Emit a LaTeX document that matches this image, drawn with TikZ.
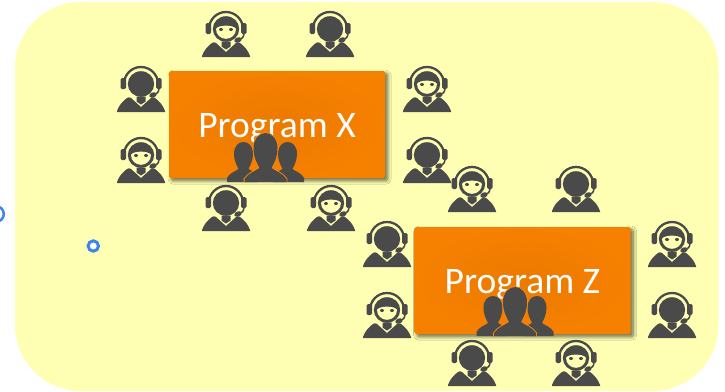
\documentclass[tikz,border=0pt]{standalone}
\usepackage{fontspec}
\setmainfont{Carlito}
\usetikzlibrary{shadows.blur}
\definecolor{bgY}{HTML}{FFFFB3}
\definecolor{iconC}{HTML}{4A4A4A}
\definecolor{boxIn}{HTML}{EC7A00}
\definecolor{boxOut}{HTML}{F68000}
\definecolor{haloO}{HTML}{F48A10}
\definecolor{ringB}{HTML}{3D85EE}
\tikzset{
 x=1pt,y=-1pt,
 programbox/.style={inner color=boxIn,outer color=boxOut,rounded corners=1.5pt,minimum width=216pt,minimum height=107pt,inner sep=0pt,
   anchor=north west,blur shadow={shadow xshift=2.5pt,shadow yshift=-2.5pt,shadow blur steps=10,shadow blur radius=3.5pt,shadow opacity=60}},
 programtext/.style={text=white,font=\fontsize{37.5}{37.5}\selectfont,inner sep=0pt,anchor=base},
 ring/.style={draw=ringB,fill=white},
 iconfill/.style={fill=iconC,draw=none},
 agentbase/.pic={
   \path[iconfill] (-24,0) -- (-24,-1) .. controls (-22,-7) and (-18,-11) .. (-14,-14) .. controls (-13,-15) and (-11,-15) .. (-10,-14) -- (0,-5) -- (10,-14) .. controls (11,-15) and (13,-15) .. (14,-14) .. controls (18,-11) and (22,-7) .. (24,-1) -- (24,0) -- cycle;
   \path[iconfill] (-4.5,-15.5) -- (4.5,-15.5) -- (4.5,-10.5) -- (0,-7.5) -- (-4.5,-10.5) -- cycle;
   \path[draw=iconC,line width=2.3pt] (-17,-28) arc[start angle=180,end angle=360,radius=17];
   \path[iconfill,rounded corners=1.5pt] (-20.5,-34) rectangle (-15,-23);
   \path[iconfill,rounded corners=1.5pt] (15,-34) rectangle (20.5,-23);
   \path[draw=iconC,line width=1.5pt] (18,-24) .. controls (18,-20) and (16,-18) .. (13,-17);
   \path[iconfill,rotate around={20:(12,-17)}] (12,-17) ellipse (3.8 and 2.6);
 },
 pics/agentdark/.style={code={
   \pic {agentbase};
   \path[iconfill] (0,-28) ellipse (13.2 and 12.8);
 }},
 pics/agentgirl/.style={code={
   \pic {agentbase};
   \path[iconfill] (0,-28) ellipse (13.2 and 12.8);
   \path[fill=bgY] (-10,-28) .. controls (-8,-32.5) and (8,-32.5) .. (10,-28) .. controls (10,-22) and (5,-18.2) .. (0,-18.2) .. controls (-5,-18.2) and (-10,-22) .. (-10,-28) -- cycle;
   \path[iconfill] (-5,-27.5) ellipse (2 and 1.5);
   \path[iconfill] (5,-27.5) ellipse (2 and 1.5);
 }},
 pics/peoplegroup/.style={code={
   \path[iconfill] (-38.5,0) -- (-38.5,-4) .. controls (-36,-9) and (-31,-10) .. (-27,-13) .. controls (-29,-17) and (-31.5,-22) .. (-31.5,-28) .. controls (-31.5,-36) and (-27,-40) .. (-22,-40) .. controls (-17,-40) and (-12.5,-36) .. (-12.5,-28) .. controls (-12.5,-22) and (-15,-17) .. (-17,-13) -- (-8,-8) -- (-8,0) -- cycle;
   \path[iconfill] (38.5,0) -- (38.5,-4) .. controls (36,-9) and (31,-10) .. (27,-13) .. controls (29,-17) and (31.5,-22) .. (31.5,-28) .. controls (31.5,-36) and (27,-40) .. (22,-40) .. controls (17,-40) and (12.5,-36) .. (12.5,-28) .. controls (12.5,-22) and (15,-17) .. (17,-13) -- (8,-8) -- (8,0) -- cycle;
   \path[draw=haloO,line width=1.8pt] (-21,0) -- (-21,-3) .. controls (-17,-9) and (-10,-11) .. (-6,-14) .. controls (-8,-18) and (-12,-24) .. (-12,-34) .. controls (-12,-43) and (-6,-49) .. (0,-49) .. controls (6,-49) and (12,-43) .. (12,-34) .. controls (12,-24) and (8,-18) .. (6,-14) .. controls (10,-11) and (17,-9) .. (21,-3) -- (21,0);
   \path[iconfill] (-21,0) -- (-21,-3) .. controls (-17,-9) and (-10,-11) .. (-6,-14) .. controls (-8,-18) and (-12,-24) .. (-12,-34) .. controls (-12,-43) and (-6,-49) .. (0,-49) .. controls (6,-49) and (12,-43) .. (12,-34) .. controls (12,-24) and (8,-18) .. (6,-14) .. controls (10,-11) and (17,-9) .. (21,-3) -- (21,0) -- cycle;
 }}
}
\begin{document}
\begin{tikzpicture}[x=1pt,y=-1pt]
\useasboundingbox (0,0) rectangle (725,391);
\path[fill=white] (0,0) rectangle (725,391);
\path[fill=bgY,rounded corners=66pt] (15,2) rectangle (718.5,391);
\path[ring,line width=2.5pt] (-4,214) circle (7.8);
\path[ring,line width=3pt] (93.3,246) circle (5.2);
\node[programbox] (progX) at (169,71) {};
\node[programbox] (progZ) at (414.5,227) {};
\node[programtext] (labX) at (277,137) {Program X};
\node[programtext] (labZ) at (522.5,293) {Program Z};
\pic at (265.5,182) {peoplegroup};
\pic at (515,336) {peoplegroup};
\pic at (226,57) {agentgirl};
\pic at (330,57) {agentdark};
\pic at (141,112) {agentdark};
\pic at (141,183) {agentgirl};
\pic at (427,112) {agentgirl};
\pic at (427,183) {agentdark};
\pic at (226,231) {agentdark};
\pic at (331,231) {agentgirl};
\pic at (472,212) {agentgirl};
\pic at (576,212) {agentdark};
\pic at (387,267) {agentdark};
\pic at (387,338) {agentgirl};
\pic at (672,267) {agentgirl};
\pic at (672,338) {agentdark};
\pic at (472,386) {agentdark};
\pic at (576,386) {agentgirl};
\end{tikzpicture}
\end{document}
